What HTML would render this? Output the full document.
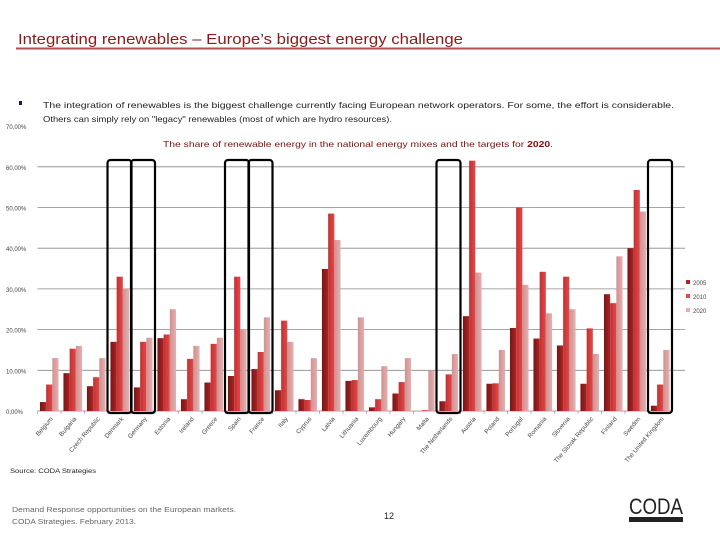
<!DOCTYPE html>
<html><head><meta charset="utf-8"><style>
body{margin:0;background:#fff;font-family:"Liberation Sans",sans-serif;}
#wrap{position:relative;width:720px;height:540px;overflow:hidden;}
</style></head><body>
<div id="wrap">
<svg id="chart" width="720" height="540" style="position:absolute;left:0;top:0">
<text x="18" y="44" font-size="15" fill="#8b1a1a" textLength="445" lengthAdjust="spacingAndGlyphs">Integrating renewables – Europe’s biggest energy challenge</text>
<line x1="16" y1="48.5" x2="720" y2="48.5" stroke="#b05050" stroke-width="2"/>
<rect x="19" y="101" width="3" height="4" fill="#1a1a4a"/>
<text x="43" y="108" font-size="8.3" fill="#222" textLength="631" lengthAdjust="spacingAndGlyphs">The integration of renewables is the biggest challenge currently facing European network operators. For some, the effort is considerable.</text>
<text x="43" y="122" font-size="8.3" fill="#222" textLength="349" lengthAdjust="spacingAndGlyphs">Others can simply rely on "legacy" renewables (most of which are hydro resources).</text>
<text x="163" y="147" font-size="8.3" fill="#7a1010" textLength="390" lengthAdjust="spacingAndGlyphs">The share of renewable energy in the national energy mixes and the targets for <tspan font-weight="bold">2020</tspan>.</text>
<g id="grid"></g><g id="bars"></g><g id="xlabels"></g><g id="boxes"></g><g id="legend"></g>
<text x="10" y="473" font-size="6.5" fill="#222" textLength="86" lengthAdjust="spacingAndGlyphs">Source: CODA Strategies</text>
<text x="12" y="512" font-size="7" fill="#666" textLength="224" lengthAdjust="spacingAndGlyphs">Demand Response opportunities on the European markets.</text>
<text x="12" y="524" font-size="7" fill="#666" textLength="124" lengthAdjust="spacingAndGlyphs">CODA Strategies. February 2013.</text>
<text x="389" y="519" font-size="9" fill="#222" text-anchor="middle">12</text>
<text x="629" y="514" font-size="22" fill="#222" textLength="54" lengthAdjust="spacingAndGlyphs">CODA</text>
<rect x="629" y="517" width="54" height="5" fill="#222"/>
</svg>
</div>
<script>
const categories=["Belgium","Bulgaria","Czech Republic","Denmark","Germany","Estonia","Ireland","Greece","Spain","France","Italy","Cyprus","Latvia","Lithuania","Luxembourg","Hungary","Malta","The Netherlands","Austria","Poland","Portugal","Romania","Slovenia","The Slovak Republic","Finland","Sweden","The United Kingdom"];
const s2005=[2.2,9.3,6.1,17,5.8,17.9,2.9,7,8.6,10.3,5.1,2.9,34.9,7.4,0.9,4.3,0,2.4,23.3,6.7,20.4,17.8,16.1,6.7,28.7,40,1.3];
const s2010=[6.5,15.3,8.3,33,17,18.8,12.8,16.5,33,14.5,22.2,2.7,48.5,7.6,2.9,7.1,0.2,9,61.5,6.8,50,34.2,33,20.3,26.5,54.3,6.5];
const s2020=[13,16,13,30,18,25,16,18,20,23,17,13,42,23,11,13,10,14,34,15,31,24,25,14,38,49,15];
const yTicks=[0,10,20,30,40,50,60,70];
const seriesNames=["2005","2010","2020"];
const highlighted=["Denmark","Germany","Spain","France","The Netherlands","The United Kingdom"];
const NS="http://www.w3.org/2000/svg";
const X0=37.5,X1=672,Y0=411,PER10=40.7;
const bw=(X1-X0)/categories.length;
const y=v=>Y0-v*PER10/10;
const xc=i=>X0+bw*(i+0.5);
function mk(t,a,p){const e=document.createElementNS(NS,t);for(const k in a)e.setAttribute(k,a[k]);p.appendChild(e);return e;}
const g=document.getElementById('grid');
yTicks.forEach(t=>{
  if(t>0&&t<70){const l=mk('line',{x1:X0,x2:685,y1:y(t),y2:y(t),stroke:'#888','stroke-width':0.8},g);
  
  }
  const tx=mk('text',{x:6,y:y(t)+3,'font-size':6,fill:'#444'},g);tx.textContent=t+',00%';
  
  
});
const ax=mk('line',{x1:X0,x2:X1,y1:Y0,y2:Y0,stroke:'#888','stroke-width':0.8},g);


const colors=[['#7a1414','#a82626'],['#c42f2f','#e04a4a'],['#d09090','#e6b0b0']];
const defs=mk('defs',{},document.getElementById('chart'));
colors.forEach((c,k)=>{const lg=mk('linearGradient',{id:'g'+k,x1:0,x2:1,y1:0,y2:0},defs);mk('stop',{offset:0,'stop-color':c[0]},lg);mk('stop',{offset:1,'stop-color':c[1]},lg);});
const series=[s2005,s2010,s2020];
const bg=document.getElementById('bars');
const barW=6.2;
categories.forEach((c,i)=>{
  series.forEach((s,k)=>{
    const v=s[i];const bx=xc(i)-barW*1.5+k*barW;
    const r=mk('rect',{x:bx,y:y(v),width:barW,height:Y0-y(v),fill:'url(#g'+k+')'},bg);
    
    
  });
  const tk=mk('line',{x1:X0+bw*i,x2:X0+bw*i,y1:Y0,y2:Y0+3,stroke:'#888','stroke-width':0.6},bg);
  
  
  const lx=xc(i)+4,ly=419;
  const t=mk('text',{x:lx,y:ly,'font-size':6.3,fill:'#444','text-anchor':'end',transform:'rotate(-50 '+lx+' '+ly+')'},document.getElementById('xlabels'));
  t.textContent=c;
  
  
});
highlighted.forEach(h=>{
  const i=categories.indexOf(h);
  const r=mk('rect',{x:X0+bw*i-0.5,y:160,width:bw+0.5,height:253,rx:3,fill:'none',stroke:'#000','stroke-width':2.2},document.getElementById('boxes'));
  
  
});
const lgG=document.getElementById('legend');
seriesNames.forEach((n,k)=>{
  const r=mk('rect',{x:686,y:280+k*14,width:4,height:4,fill:colors[k][1]},lgG);
  
  
  const t=mk('text',{x:693,y:285+k*14,'font-size':6,fill:'#444'},lgG);t.textContent=n;
  
  
});
</script>
</body></html>
